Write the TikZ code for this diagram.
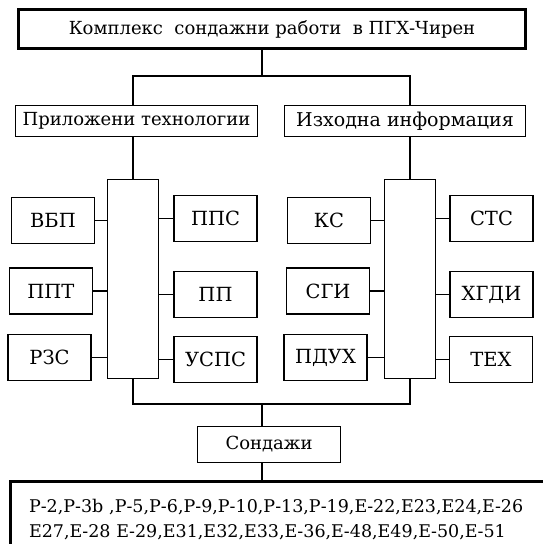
\documentclass[tikz,border=0pt]{standalone}
\usepackage{fontspec}
\setmainfont{DejaVu Serif}
\begin{document}
\begin{tikzpicture}[x=1pt,y=-1pt,
  box/.style={draw, line width=1.2pt, inner sep=0pt, outer sep=0pt, font=\fontsize{18}{21}\selectfont},
  thickbox/.style={draw, line width=3pt, inner sep=0pt, outer sep=0pt},
  small/.style={box, minimum width=83, minimum height=46, font=\fontsize{19.5}{22}\selectfont},
  tall/.style={box, minimum width=51, minimum height=199},
  conn/.style={line width=1.2pt}]
\useasboundingbox (0,0) rectangle (543,544);
\clip (0,0) rectangle (543,544);
\fill[white] (0,0) rectangle (543,544);

\node[thickbox, minimum width=507, minimum height=39, font=\fontsize{18}{21}\selectfont] (top) at (272,29) {Комплекс\ \ сондажни работи\ \ в ПГХ-Чирен};

\node[box, minimum width=242, minimum height=31] (hl) at (136.5,121) {Приложени технологии};
\node[box, minimum width=241, minimum height=31, font=\fontsize{19}{21}\selectfont] (hr) at (405,121) {Изходна информация};

\node[tall] (tl) at (133,279) {};
\node[tall] (tr) at (410,279) {};

\node[small] (vbp) at (53,220.5) {ВБП};
\node[small] (ppt) at (51,291) {ППТ};
\node[small] (rzs) at (49.5,357.5) {РЗС};
\node[small] (pps) at (215.5,218.5) {ППС};
\node[small] (pp) at (215.5,294.5) {ПП};
\node[small] (usps) at (215.5,359.5) {УСПС};

\node[small] (ks) at (329,220.5) {КС};
\node[small] (sgi) at (328,291) {СГИ};
\node[small] (pduh) at (325.5,357.5) {ПДУХ};
\node[small] (sts) at (491.5,218.5) {СТС};
\node[small] (hgdi) at (491.5,294.5) {ХГДИ};
\node[small] (teh) at (491,359.5) {ТЕХ};

\node[box, minimum width=143, minimum height=36] (son) at (269,444.5) {Сондажи};

\node[thickbox, anchor=north west, minimum width=560, minimum height=76,
      text width=523, align=left, inner xsep=18.5pt,
      font=\fontsize{17.5}{25}\selectfont] (bot) at (10.5,481.5)
  {Р-2,Р-3b ,Р-5,Р-6,Р-9,Р-10,Р-13,Р-19,Е-22,Е23,Е24,Е-26\\
   Е27,Е-28 Е-29,Е31,Е32,Е33,Е-36,Е-48,Е49,Е-50,Е-51};

\coordinate (j1) at (262,76);
\coordinate (j2) at (262,404);

\draw[conn] (top.south -| j1) -- (j1);
\draw[conn] (tl.north |- hl.north) |- (j1) -| (tr.north |- hr.north);
\draw[conn] (tl.north |- hl.south) -- (tl.north);
\draw[conn] (tr.north |- hr.south) -- (tr.north);

\foreach \n in {vbp,ppt,rzs} \draw[conn] (\n.east) -- (\n.east -| tl.west);
\foreach \n in {pps,pp,usps} \draw[conn] (\n.west) -- (\n.west -| tl.east);
\foreach \n in {ks,sgi,pduh} \draw[conn] (\n.east) -- (\n.east -| tr.west);
\foreach \n in {sts,hgdi,teh} \draw[conn] (\n.west) -- (\n.west -| tr.east);

\draw[conn] (tl.south) -- (tl.south |- j2) -- (tr.south |- j2) -- (tr.south);
\draw[conn] (j2) -- (j2 |- son.north);
\draw[conn] (son.south -| j2) -- (bot.north -| j2);
\end{tikzpicture}
\end{document}
